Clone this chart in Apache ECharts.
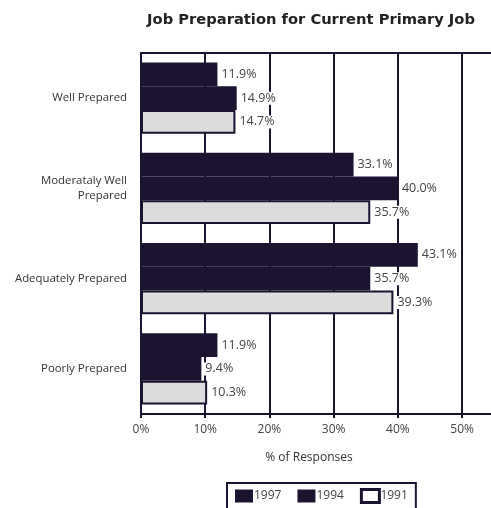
<!DOCTYPE html>
<html>
<head>
<meta charset="utf-8">
<script src="https://cdn.jsdelivr.net/npm/echarts@6/dist/echarts.min.js"></script>
<style>
  html, body { margin: 0; padding: 0; background: #fff; }
  #chart { width: 491px; height: 508px; }
</style>
</head>
<body>
<div id="chart"></div>
<script>
// Survey responses: how well respondents felt prepared for their current primary job
const categories = ['Well Prepared', 'Moderataly Well\nPrepared', 'Adequately Prepared', 'Poorly Prepared'];
const years = ['1997', '1994', '1991'];
const values1997 = [11.9, 33.1, 43.1, 11.9];
const values1994 = [14.9, 40.0, 35.7, 9.4];
const values1991 = [14.7, 35.7, 39.3, 10.3];
const xTicks = [0, 10, 20, 30, 40, 50];

const ink = '#1b1330';
const font = 'Open Sans';
const xMax = 54.5;

const valueLabel = {
  show: true,
  position: 'right',
  distance: 2,
  formatter: p => p.value.toFixed(1) + '%',
  color: '#444',
  fontFamily: font,
  fontSize: 12.5,
  backgroundColor: '#fff',
  padding: [0, 2, 0, 2]
};

function barSeries(name, data, fill, border) {
  return {
    name: name,
    type: 'bar',
    data: data,
    barCategoryGap: '21%',
    barGap: '0%',
    itemStyle: { color: fill, borderColor: border, borderWidth: border ? 2 : 0 },
    label: valueLabel,
    z: 3
  };
}

const chart = echarts.init(document.getElementById('chart'), null, { renderer: 'canvas' });
chart.setOption({
  animation: false,
  backgroundColor: '#fff',
  title: {
    text: 'Job Preparation for Current Primary Job',
    left: 306,
    textAlign: 'center',
    top: 8,
    textStyle: { fontFamily: 'DejaVu Sans', fontWeight: 'bold', fontSize: 14.7, color: '#222' }
  },
  // the plot runs to the right edge of the page with no right-hand frame
  grid: { left: 141, top: 53, right: 0, bottom: 94 },
  xAxis: [
    {
      type: 'value',
      min: 0, max: xMax, interval: 10,
      name: '% of Responses',
      nameLocation: 'middle',
      nameGap: 38,
      nameTextStyle: { fontFamily: font, fontSize: 12, color: '#333', padding: [0, 14, 0, 0] },
      axisLine: { show: true, lineStyle: { color: ink, width: 2 } },
      axisTick: { show: true, length: 4, lineStyle: { color: ink, width: 2 } },
      splitLine: { show: true, showMaxLine: false, lineStyle: { color: ink, width: 2 } },
      axisLabel: {
        fontFamily: font, fontSize: 12, color: '#444', margin: 10,
        showMaxLabel: false,
        formatter: v => (xTicks.indexOf(v) >= 0 ? v + '%' : '')
      }
    },
    {
      // top edge of the frame
      type: 'value', position: 'top',
      min: 0, max: xMax, interval: 10,
      axisLine: { show: true, lineStyle: { color: ink, width: 2 } },
      axisTick: { show: false },
      axisLabel: { show: false },
      splitLine: { show: false }
    }
  ],
  yAxis: {
    type: 'category',
    data: categories,
    inverse: true,
    axisLine: { show: true, lineStyle: { color: ink, width: 2 } },
    axisTick: { show: false },
    axisLabel: {
      fontFamily: font, fontSize: 11.4, color: '#333', margin: 14,
      align: 'right', lineHeight: 15
    }
  },
  legend: {
    data: [
      { name: years[0] },
      { name: years[1] },
      { name: years[2], itemStyle: { color: '#fff', borderColor: ink, borderWidth: 3 } }
    ],
    icon: 'rect',
    left: 227, top: 483,
    padding: [5, 8, 5, 8],
    borderColor: ink, borderWidth: 2,
    itemWidth: 18, itemHeight: 13, itemGap: 16,
    textStyle: { fontFamily: font, fontSize: 12, color: '#444', padding: [0, 0, 0, -4] }
  },
  series: [
    barSeries(years[0], values1997, ink, null),
    barSeries(years[1], values1994, ink, null),
    barSeries(years[2], values1991, '#dcdcdc', ink)
  ]
});
</script>
</body>
</html>
